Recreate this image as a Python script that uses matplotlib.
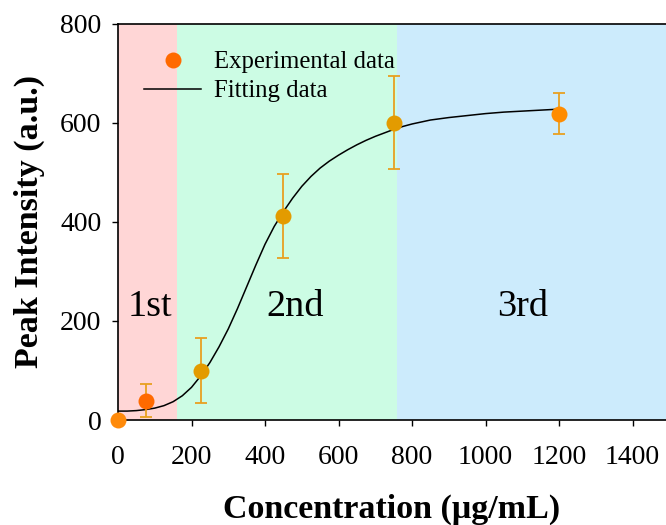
import matplotlib
matplotlib.use("Agg")
import matplotlib.pyplot as plt
from matplotlib.lines import Line2D

# ---- data ----
conc = [0, 75, 225, 450, 750, 1200]
intensity = [0, 39, 100, 412, 601, 619]
err = [0, 33, 66, 84, 94, 41]

fit_x = [0, 25, 50, 75, 100, 125, 150, 175, 200, 225, 250, 275, 300, 325, 350,
         375, 400, 425, 450, 475, 500, 525, 550, 575, 600, 625, 650, 675, 700,
         725, 750, 775, 800, 850, 900, 950, 1000, 1050, 1100, 1150, 1200]
fit_y = [18, 18, 19, 21, 24, 29, 37, 49, 66, 89, 116, 148, 184, 225, 269,
         313, 355, 391, 421, 448, 472, 492, 509, 523, 535, 546, 556, 565, 573,
         580, 587, 593, 598, 606, 611, 615, 619, 622, 624, 626, 628]

regions = [(0, 160), (160, 760), (760, 1600)]
region_labels = ["1st", "2nd", "3rd"]
region_label_x = [88, 483, 1101]
region_label_y = 228

xticks = [0, 200, 400, 600, 800, 1000, 1200, 1400]
yticks = [0, 200, 400, 600, 800]

# ---- styles ----
region_colors = ["#FFD6D6", "#CCFCE4", "#CCEBFC"]
marker_colors = ["#FF8A0A", "#FF6A00", "#E39B00", "#E39B00", "#E39B00", "#FF8C00"]
err_color = "#E8A020"

plt.rcParams["font.family"] = ["Liberation Serif", "DejaVu Serif"]

fig = plt.figure(figsize=(6.66, 5.25), dpi=100)
ax = fig.add_axes([118 / 666, 105 / 525, 548 / 666, 396 / 525])

for (a, b), c in zip(regions, region_colors):
    ax.axvspan(a, b, color=c, zorder=0, lw=0)

for lbl, lx in zip(region_labels, region_label_x):
    ax.text(lx, region_label_y, lbl, fontsize=27.5, ha="center", va="center", zorder=2)

ax.plot(fit_x, fit_y, color="black", lw=1.1, zorder=3)

ax.errorbar(conc, intensity, yerr=err, fmt="none", ecolor=err_color,
            elinewidth=1.3, capsize=4.3, capthick=1.3, zorder=4)
for xv, yv, c in zip(conc, intensity, marker_colors):
    ax.plot([xv], [yv], "o", color=c, ms=11.5, mec="none", zorder=5, clip_on=False)

ax.set_xlim(0, 1491)
ax.set_ylim(0, 800)
ax.set_xticks(xticks)
ax.set_yticks(yticks)
ax.tick_params(axis="both", direction="out", length=4, width=1, labelsize=20)
ax.tick_params(axis="x", pad=14)
ax.tick_params(axis="y", pad=8)
ax.spines["right"].set_visible(False)
for s in ["left", "bottom", "top"]:
    ax.spines[s].set_linewidth(1.2)

ax.set_xlabel("Concentration (μg/mL)", fontsize=24.5, fontweight="bold", labelpad=17)
ax.set_ylabel("Peak Intensity (a.u.)", fontsize=24.5, fontweight="bold", labelpad=11)

handles = [
    Line2D([], [], marker="o", ls="none", color="#FF6A00", ms=11.5, mec="none"),
    Line2D([], [], color="black", lw=1.1),
]
ax.legend(handles, ["Experimental data", "Fitting data"], loc="upper left",
          bbox_to_anchor=(0.03, 0.957), frameon=False, fontsize=17.8,
          handlelength=2.3, handletextpad=0.5, labelspacing=0.28, borderaxespad=0)

fig.savefig("out.png", dpi=100)
